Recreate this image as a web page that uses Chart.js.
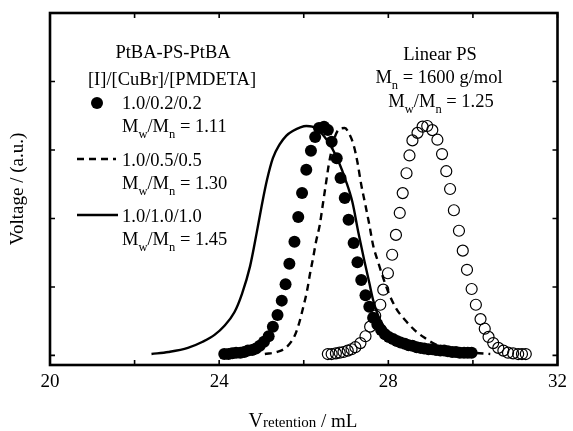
<!DOCTYPE html>
<html>
<head>
<meta charset="utf-8">
<script src="https://cdn.jsdelivr.net/npm/chart.js@4"></script>
<style>
  html, body { margin: 0; padding: 0; background: #fff; }
  canvas { display: block; }
</style>
</head>
<body>
<canvas id="gpc" width="573" height="431"></canvas>
<script>
// Axis ticks
const retentionTicks = [20, 22, 24, 26, 28, 30, 32];
const labeledRetention = [20, 24, 28, 32];
const voltageTicks = [0, 1, 2, 3, 4, 5];

// PtBA-PS-PtBA, [I]/[CuBr]/[PMDETA] = 1.0/0.2/0.2 (filled symbols)
const ratio02X = [24.12, 24.22, 24.31, 24.40, 24.50, 24.59, 24.68, 24.78, 24.87, 24.96,
  25.06, 25.17, 25.27, 25.38, 25.48, 25.57, 25.66, 25.78, 25.87, 25.96,
  26.06, 26.17, 26.27, 26.36, 26.48, 26.57, 26.66, 26.78, 26.87, 26.97,
  27.06, 27.18, 27.27, 27.36, 27.46, 27.55, 27.64, 27.74, 27.83, 27.92,
  28.01, 28.11, 28.20, 28.29, 28.39, 28.48, 28.57, 28.67, 28.76, 28.85,
  28.95, 29.04, 29.13, 29.23, 29.32, 29.41, 29.51, 29.60, 29.69, 29.79,
  29.88, 29.97];
const ratio02Y = [0.02, 0.02, 0.03, 0.04, 0.04, 0.05, 0.07, 0.08, 0.10, 0.14,
  0.20, 0.28, 0.42, 0.59, 0.80, 1.04, 1.34, 1.66, 2.02, 2.37,
  2.71, 2.99, 3.19, 3.32, 3.34, 3.29, 3.12, 2.88, 2.59, 2.30,
  1.98, 1.64, 1.36, 1.10, 0.88, 0.71, 0.55, 0.45, 0.37, 0.31,
  0.27, 0.24, 0.21, 0.19, 0.17, 0.15, 0.14, 0.12, 0.11, 0.10,
  0.09, 0.09, 0.08, 0.07, 0.07, 0.06, 0.05, 0.05, 0.04, 0.04,
  0.04, 0.04];

// 1.0/0.5/0.5 (dashed trace)
const ratio05X = [25.08, 25.36, 25.59, 25.78, 25.89, 25.99, 26.08, 26.15, 26.22, 26.29,
  26.38, 26.45, 26.52, 26.59, 26.66, 26.73, 26.85, 26.97, 27.08, 27.18,
  27.27, 27.36, 27.46, 27.55, 27.64, 27.76, 27.88, 28.01, 28.18, 28.39,
  28.62, 28.85, 29.09, 29.37, 29.67, 30.02, 30.41];
const ratio05Y = [0.02, 0.05, 0.12, 0.28, 0.47, 0.71, 0.95, 1.20, 1.42, 1.66,
  1.91, 2.20, 2.49, 2.78, 3.00, 3.18, 3.31, 3.32, 3.23, 3.07,
  2.82, 2.49, 2.19, 1.91, 1.61, 1.36, 1.13, 0.91, 0.69, 0.52,
  0.37, 0.26, 0.17, 0.11, 0.07, 0.04, 0.02];

// 1.0/1.0/1.0 (solid trace)
const ratio10X = [22.40, 22.80, 23.26, 23.61, 23.89, 24.12, 24.36, 24.54, 24.73, 24.89,
  25.01, 25.13, 25.27, 25.43, 25.59, 25.75, 25.92, 26.06, 26.20, 26.34,
  26.48, 26.64, 26.83, 26.99, 27.15, 27.29, 27.43, 27.55, 27.64, 27.76,
  27.92, 28.15, 28.50, 28.85, 29.32, 29.79];
const ratio10Y = [0.02, 0.05, 0.11, 0.20, 0.30, 0.43, 0.63, 0.90, 1.30, 1.80,
  2.20, 2.56, 2.88, 3.08, 3.21, 3.28, 3.33, 3.35, 3.34, 3.29,
  3.20, 3.06, 2.82, 2.56, 2.24, 1.80, 1.39, 1.06, 0.81, 0.58,
  0.40, 0.27, 0.18, 0.12, 0.08, 0.05];

// Linear PS, Mn = 1600 g/mol (open symbols)
const linearPSX = [26.57, 26.66, 26.76, 26.85, 26.94, 27.04, 27.13, 27.22, 27.34, 27.46,
  27.57, 27.69, 27.81, 27.88, 27.99, 28.09, 28.18, 28.27, 28.34, 28.43,
  28.50, 28.57, 28.69, 28.81, 28.92, 29.04, 29.16, 29.27, 29.37, 29.46,
  29.55, 29.67, 29.76, 29.86, 29.97, 30.07, 30.18, 30.28, 30.37, 30.48,
  30.60, 30.72, 30.83, 30.95, 31.07, 31.16, 31.25];
const linearPSY = [0.02, 0.02, 0.03, 0.04, 0.05, 0.07, 0.09, 0.12, 0.18, 0.28,
  0.42, 0.58, 0.74, 0.96, 1.20, 1.47, 1.76, 2.08, 2.37, 2.66,
  2.92, 3.14, 3.25, 3.34, 3.35, 3.29, 3.15, 2.94, 2.69, 2.43,
  2.12, 1.82, 1.53, 1.25, 0.97, 0.74, 0.53, 0.39, 0.27, 0.18,
  0.11, 0.07, 0.04, 0.03, 0.02, 0.02, 0.02];

const pairs = (xs, ys) => xs.map((x, i) => ({ x: x, y: ys[i] }));

const SERIF = '"Liberation Serif", "DejaVu Serif", serif';

// Draws a run of text pieces with individual size and baseline shift
function drawRich(ctx, pieces, x, y, align) {
  let total = 0;
  pieces.forEach(p => {
    ctx.font = p.size + 'px ' + SERIF;
    p.w = ctx.measureText(p.t).width;
    total += p.w;
  });
  let cx = align === 'center' ? x - total / 2 : x;
  ctx.textAlign = 'left';
  ctx.textBaseline = 'alphabetic';
  pieces.forEach(p => {
    ctx.font = p.size + 'px ' + SERIF;
    ctx.fillText(p.t, cx, y + (p.dy || 0));
    cx += p.w;
  });
}

function ratioLabel(value) {
  return [
    { t: 'M', size: 18.5 }, { t: 'w', size: 12.5, dy: 6 },
    { t: '/M', size: 18.5 }, { t: 'n', size: 12.5, dy: 6 },
    { t: ' = ' + value, size: 18.5 }
  ];
}

const framePlugin = {
  id: 'frameAndNotes',
  afterDatasetsDraw(chart) {
    const ctx = chart.ctx;
    const a = chart.chartArea;
    const xs = chart.scales.x;
    const ys = chart.scales.y;
    ctx.save();
    ctx.strokeStyle = '#000';
    ctx.fillStyle = '#000';

    // inward tick marks on all four sides
    ctx.lineWidth = 1.6;
    const tl = 5;
    ctx.beginPath();
    retentionTicks.forEach(v => {
      const px = xs.getPixelForValue(v);
      ctx.moveTo(px, a.bottom); ctx.lineTo(px, a.bottom - tl);
      ctx.moveTo(px, a.top); ctx.lineTo(px, a.top + tl);
    });
    voltageTicks.forEach(v => {
      const py = ys.getPixelForValue(v);
      ctx.moveTo(a.left, py); ctx.lineTo(a.left + tl, py);
      ctx.moveTo(a.right, py); ctx.lineTo(a.right - tl, py);
    });
    ctx.stroke();

    // plot frame
    ctx.lineWidth = 2.6;
    ctx.strokeRect(a.left, a.top, a.right - a.left, a.bottom - a.top);

    // x-axis title with the small "retention" part
    drawRich(ctx, [
      { t: 'V', size: 20 }, { t: 'retention', size: 15 }, { t: ' / mL', size: 19 }
    ], 303, 427, 'center');

    // key for the PtBA-PS-PtBA traces
    drawRich(ctx, [{ t: 'PtBA-PS-PtBA', size: 18.5 }], 173, 58, 'center');
    drawRich(ctx, [{ t: '[I]/[CuBr]/[PMDETA]', size: 18.5 }], 172, 85, 'center');

    ctx.beginPath();
    ctx.arc(97, 103, 6, 0, Math.PI * 2);
    ctx.fill();
    drawRich(ctx, [{ t: '1.0/0.2/0.2', size: 18.5 }], 122, 109, 'left');
    drawRich(ctx, ratioLabel('1.11'), 122, 132, 'left');

    ctx.lineWidth = 2.5;
    ctx.setLineDash([7, 5]);
    ctx.beginPath();
    ctx.moveTo(77, 159); ctx.lineTo(116, 159);
    ctx.stroke();
    ctx.setLineDash([]);
    drawRich(ctx, [{ t: '1.0/0.5/0.5', size: 18.5 }], 122, 166, 'left');
    drawRich(ctx, ratioLabel('1.30'), 122, 189, 'left');

    ctx.beginPath();
    ctx.moveTo(77, 215); ctx.lineTo(118, 215);
    ctx.stroke();
    drawRich(ctx, [{ t: '1.0/1.0/1.0', size: 18.5 }], 122, 222, 'left');
    drawRich(ctx, ratioLabel('1.45'), 122, 245, 'left');

    // note for the linear PS standard
    drawRich(ctx, [{ t: 'Linear PS', size: 18.5 }], 440, 60, 'center');
    drawRich(ctx, [
      { t: 'M', size: 18.5 }, { t: 'n', size: 12.5, dy: 6 }, { t: ' = 1600 g/mol', size: 18.5 }
    ], 439, 83, 'center');
    drawRich(ctx, ratioLabel('1.25'), 441, 107, 'center');

    ctx.restore();
  }
};

new Chart(document.getElementById('gpc'), {
  type: 'scatter',
  data: {
    datasets: [
      {
        label: '1.0/0.2/0.2',
        data: pairs(ratio02X, ratio02Y),
        showLine: false,
        pointRadius: 6,
        pointBackgroundColor: '#000',
        pointBorderColor: '#000',
        pointBorderWidth: 0,
        order: 0
      },
      {
        label: '1.0/1.0/1.0',
        data: pairs(ratio10X, ratio10Y),
        showLine: true,
        borderColor: '#000',
        borderWidth: 2.4,
        pointRadius: 0,
        cubicInterpolationMode: 'monotone',
        order: 1
      },
      {
        label: '1.0/0.5/0.5',
        data: pairs(ratio05X, ratio05Y),
        showLine: true,
        borderColor: '#000',
        borderWidth: 2.4,
        borderDash: [7, 5],
        pointRadius: 0,
        cubicInterpolationMode: 'monotone',
        order: 2
      },
      {
        label: 'Linear PS',
        data: pairs(linearPSX, linearPSY),
        showLine: false,
        pointRadius: 5.5,
        pointBackgroundColor: 'rgba(255,255,255,0)',
        pointBorderColor: '#000',
        pointBorderWidth: 1.2,
        order: 3
      }
    ]
  },
  options: {
    responsive: false,
    animation: false,
    devicePixelRatio: 1,
    layout: { padding: { top: 13, right: 8, left: 0, bottom: 0 } },
    plugins: { legend: { display: false }, tooltip: { enabled: false } },
    scales: {
      x: {
        type: 'linear',
        min: 20,
        max: 32,
        afterFit(s) { s.height = 66; },
        afterBuildTicks(s) { s.ticks = retentionTicks.map(v => ({ value: v })); },
        ticks: {
          autoSkip: false,
          maxRotation: 0,
          padding: 6,
          color: '#000',
          font: { family: SERIF, size: 19 },
          callback: v => labeledRetention.includes(v) ? String(v) : ''
        },
        grid: { display: false, drawTicks: false },
        border: { display: false }
      },
      y: {
        min: -0.14,
        max: 5,
        afterFit(s) { s.width = 50; },
        afterBuildTicks(s) { s.ticks = voltageTicks.map(v => ({ value: v })); },
        ticks: { display: false },
        grid: { display: false, drawTicks: false },
        border: { display: false },
        title: {
          display: true,
          text: 'Voltage / (a.u.)',
          color: '#000',
          font: { family: SERIF, size: 19 },
          padding: { top: 7, bottom: 0 }
        }
      }
    }
  },
  plugins: [framePlugin]
});
</script>
</body>
</html>
